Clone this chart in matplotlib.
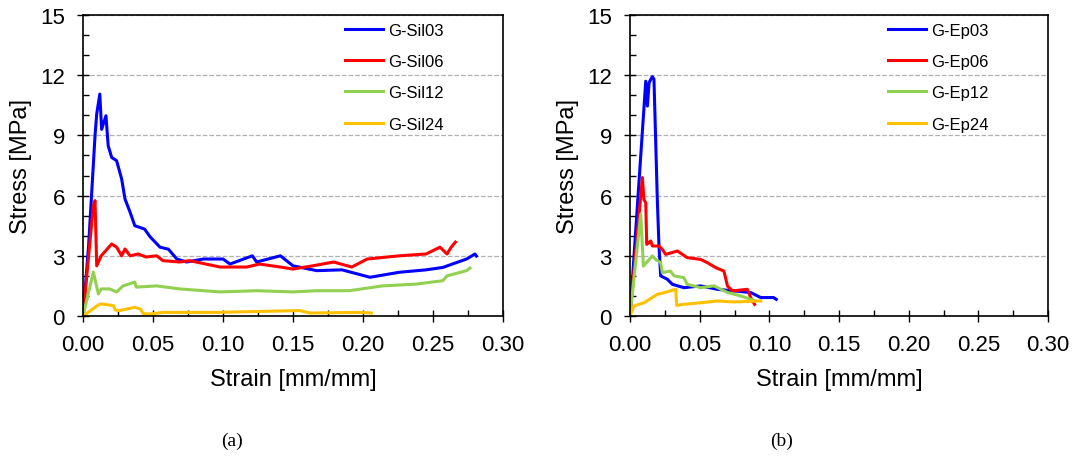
import matplotlib.pyplot as plt
from matplotlib.ticker import MultipleLocator

plt.rcParams['font.family'] = ['Liberation Sans', 'DejaVu Sans']

# ---- (a) silicone specimens: strain [mm/mm], stress [MPa]
sil03_x = [0, 0.004, 0.0086, 0.0098, 0.012, 0.0133, 0.0164, 0.018, 0.0205, 0.024, 0.0276, 0.030,
           0.0336, 0.037, 0.044, 0.048, 0.055, 0.061, 0.067, 0.074, 0.086, 0.10, 0.105,
           0.121, 0.124, 0.141, 0.15, 0.167, 0.185, 0.205, 0.226, 0.245, 0.257, 0.274, 0.28, 0.281]
sil03_y = [0, 3.5, 9.0, 10.07, 11.06, 9.3, 9.98, 8.48, 7.9, 7.74, 6.83, 5.83,
           5.18, 4.5, 4.33, 3.94, 3.43, 3.33, 2.84, 2.69, 2.84, 2.84, 2.59,
           3.0, 2.69, 3.0, 2.5, 2.26, 2.3, 1.93, 2.18, 2.3, 2.42, 2.84, 3.09, 2.99]

sil06_x = [0, 0.0074, 0.0086, 0.0098, 0.013, 0.0205, 0.024, 0.0276, 0.030, 0.0336, 0.0395,
           0.045, 0.0526, 0.057, 0.069, 0.076, 0.098, 0.117, 0.126, 0.141, 0.15, 0.164,
           0.179, 0.192, 0.203, 0.226, 0.245, 0.255, 0.26, 0.263, 0.266]
sil06_y = [0, 5.5, 5.75, 2.5, 3.0, 3.59, 3.43, 3.0, 3.34, 3.0, 3.09,
           2.94, 3.0, 2.76, 2.69, 2.76, 2.44, 2.44, 2.59, 2.44, 2.34, 2.5,
           2.69, 2.44, 2.84, 3.0, 3.09, 3.43, 3.09, 3.43, 3.68]

sil12_x = [0, 0.0074, 0.011, 0.013, 0.019, 0.024, 0.0286, 0.037, 0.038, 0.0526, 0.069,
           0.098, 0.124, 0.15, 0.167, 0.19, 0.214, 0.238, 0.257, 0.26, 0.274, 0.2764]
sil12_y = [0, 2.19, 1.1, 1.35, 1.35, 1.2, 1.5, 1.69, 1.44, 1.5, 1.35,
           1.2, 1.26, 1.2, 1.26, 1.26, 1.5, 1.59, 1.76, 2.0, 2.26, 2.39]

sil24_x = [0, 0.011, 0.013, 0.0217, 0.023, 0.026, 0.037, 0.041, 0.043, 0.048, 0.057,
           0.095, 0.155, 0.162, 0.198, 0.206]
sil24_y = [0, 0.55, 0.6, 0.52, 0.3, 0.27, 0.43, 0.35, 0.12, 0.1, 0.18,
           0.18, 0.27, 0.15, 0.18, 0.15]

# ---- (b) epoxy specimens
ep03_x = [0, 0.0113, 0.0125, 0.0137, 0.016, 0.0172, 0.0196, 0.0208, 0.022, 0.0268, 0.0304,
          0.0387, 0.0507, 0.0627, 0.0746, 0.0866, 0.0938, 0.103, 0.105]
ep03_y = [0, 11.7, 10.46, 11.63, 11.93, 11.8, 5.8, 3.49, 2.0, 1.83, 1.58,
          1.41, 1.5, 1.33, 1.25, 1.17, 0.92, 0.92, 0.83]

ep06_x = [0, 0.0089, 0.010, 0.0113, 0.012, 0.0149, 0.016, 0.0208, 0.0232, 0.0256, 0.034,
          0.041, 0.0507, 0.0555, 0.0615, 0.0674, 0.070, 0.0735, 0.0842, 0.0866, 0.0894]
ep06_y = [0, 6.9, 5.8, 5.65, 3.57, 3.74, 3.49, 3.49, 3.32, 3.07, 3.24,
          2.91, 2.82, 2.66, 2.41, 2.24, 1.49, 1.25, 1.33, 0.92, 0.58]

ep12_x = [0, 0.0077, 0.0096, 0.016, 0.0184, 0.022, 0.0232, 0.029, 0.0316, 0.0387, 0.041,
          0.0507, 0.0603, 0.070, 0.0794, 0.0902]
ep12_y = [0, 5.07, 2.49, 2.99, 2.82, 2.66, 2.16, 2.24, 2.0, 1.91, 1.58,
          1.41, 1.5, 1.17, 1.0, 0.75]

ep24_x = [0, 0.0029, 0.010, 0.0196, 0.0244, 0.0328, 0.0335, 0.0387, 0.0507, 0.0627, 0.0746, 0.0938]
ep24_y = [0, 0.5, 0.66, 1.08, 1.16, 1.33, 0.53, 0.58, 0.66, 0.75, 0.7, 0.75]

colors = ['#0000FF', '#FF0000', '#92D050', '#FFC000']
sil_labels = ['G-Sil03', 'G-Sil06', 'G-Sil12', 'G-Sil24']
ep_labels = ['G-Ep03', 'G-Ep06', 'G-Ep12', 'G-Ep24']

W, H = 1074, 460
fig = plt.figure(figsize=(W / 100, H / 100), dpi=100)
ax1 = fig.add_axes([83 / W, (H - 317) / H, 420 / W, 301 / H])
ax2 = fig.add_axes([630 / W, (H - 317) / H, 418 / W, 301 / H])

sil = [(sil03_x, sil03_y), (sil06_x, sil06_y), (sil12_x, sil12_y), (sil24_x, sil24_y)]
ep = [(ep03_x, ep03_y), (ep06_x, ep06_y), (ep12_x, ep12_y), (ep24_x, ep24_y)]


def style(ax, series, labels, caption, cx, legx):
    for (x, y), c, lab in zip(series, colors, labels):
        ax.plot(x, y, color=c, lw=2.2, label=lab)
    ax.set_xlim(0, 0.30)
    ax.set_ylim(0, 15)
    ax.xaxis.set_major_locator(MultipleLocator(0.05))
    ax.xaxis.set_minor_locator(MultipleLocator(0.025))
    ax.yaxis.set_major_locator(MultipleLocator(3))
    ax.yaxis.set_minor_locator(MultipleLocator(1))
    ax.xaxis.set_major_formatter(lambda v, p: f'{v:.2f}')
    ax.tick_params(which='major', direction='inout', length=8, width=1, labelsize=16)
    ax.tick_params(which='minor', direction='in', length=4, width=1)
    ax.tick_params(axis='x', which='major', pad=9)
    ax.tick_params(axis='y', which='major', pad=9)
    for s in ax.spines.values():
        s.set_linewidth(1.2)
    ax.grid(axis='y', which='major', color='#b0b0b0', ls='--', lw=0.9)
    ax.set_axisbelow(True)
    ax.set_xlabel('Strain [mm/mm]', fontsize=17, labelpad=9)
    ax.set_ylabel('Stress [MPa]', fontsize=17, labelpad=6)
    ax.legend(loc='upper left', frameon=False, fontsize=12, handlelength=2.3,
              labelspacing=0.98, borderaxespad=0, borderpad=0,
              bbox_to_anchor=(legx, 0.975), handletextpad=0.3)
    fig.text(cx, (H - 441) / H, caption, family='Liberation Serif', fontsize=14,
             ha='center', va='center')


style(ax1, sil, sil_labels, '(a)', 232 / W, 0.624)
style(ax2, ep, ep_labels, '(b)', 782 / W, 0.617)

fig.savefig('out.png', dpi=100)
